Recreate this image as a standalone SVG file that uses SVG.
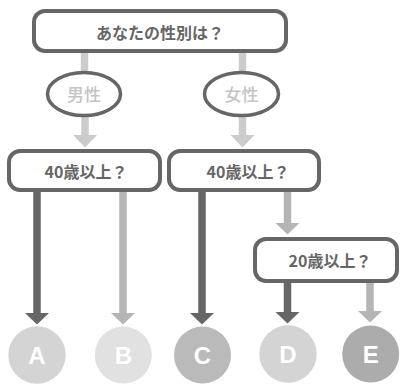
<svg xmlns="http://www.w3.org/2000/svg" width="401" height="385" viewBox="0 0 401 385">
<style>
.box{fill:#fff;stroke:#666;stroke-width:4}
.ell{fill:#fff;stroke:#666;stroke-width:3.5}
.q{font-family:"Noto Sans CJK JP","Noto Sans",sans-serif;font-weight:700;font-size:16px;fill:#666;text-anchor:middle;dominant-baseline:central}
.g{font-family:"Noto Sans CJK JP","Noto Sans",sans-serif;font-weight:500;font-size:17px;fill:#c4c4c4;text-anchor:middle;dominant-baseline:central}
.lt{font-family:"Liberation Sans",Arial,sans-serif;font-weight:700;font-size:24px;fill:#fff;text-anchor:middle}
.c0{stroke:#cccccc;stroke-width:7.5;fill:none}
.c1{stroke:#b5b5b5;stroke-width:7.5;fill:none}
.c2{stroke:#666;stroke-width:7.5;fill:none}
.h0{fill:#cccccc}.h1{fill:#b5b5b5}.h2{fill:#666}
</style>
<g id="connectors">
<line class="c0" x1="84.5" y1="53" x2="84.5" y2="72"/>
<line class="c0" x1="242.5" y1="53" x2="242.5" y2="72"/>
<line class="c0" x1="85" y1="116" x2="85" y2="136"/>
<polygon class="h0" points="73,135 97,135 85,147.5"/>
<line class="c0" x1="242.5" y1="116" x2="242.5" y2="136"/>
<polygon class="h0" points="230.5,135 254.5,135 242.5,147.5"/>
<line class="c1" x1="287.5" y1="192" x2="287.5" y2="224"/>
<polygon class="h1" points="275.5,223 299.5,223 287.5,234.5"/>
<line class="c2" x1="37" y1="192" x2="37" y2="314"/>
<polygon class="h2" points="25,313 49,313 37,324.5"/>
<line class="c1" x1="123" y1="192" x2="123" y2="314"/>
<polygon class="h1" points="111,313 135,313 123,324.5"/>
<line class="c2" x1="202" y1="192" x2="202" y2="314"/>
<polygon class="h2" points="190,313 214,313 202,324.5"/>
<line class="c2" x1="287.5" y1="283" x2="287.5" y2="313"/>
<polygon class="h2" points="275.5,312 299.5,312 287.5,323.5"/>
<line class="c1" x1="370" y1="283" x2="370" y2="312"/>
<polygon class="h1" points="358,311 382,311 370,322.5"/>
</g>
<g id="q-gender">
<rect class="box" x="34" y="11" width="252" height="40" rx="11"/>
<text class="q" x="160" y="31.5">あなたの性別は？</text>
</g>
<g id="male">
<ellipse class="ell" cx="84" cy="94" rx="36.5" ry="21.5"/>
<text class="g" x="84" y="93.5">男性</text>
</g>
<g id="female">
<ellipse class="ell" cx="241.5" cy="94" rx="37" ry="21.5"/>
<text class="g" x="241.5" y="93.5">女性</text>
</g>
<g id="q-age-m">
<rect class="box" x="9" y="151" width="151" height="39" rx="11"/>
<text class="q" x="86" y="170.5">40歳以上？</text>
</g>
<g id="q-age-f">
<rect class="box" x="169" y="151" width="150" height="39" rx="11"/>
<text class="q" x="248" y="170.5">40歳以上？</text>
</g>
<g id="q-age-20">
<rect class="box" x="255" y="239" width="142" height="42" rx="11"/>
<text class="q" x="330" y="260">20歳以上？</text>
</g>
<g id="A"><circle cx="37" cy="355" r="28.7" fill="#d4d4d4"/><text class="lt" x="37" y="363.5">A</text></g>
<g id="B"><circle cx="123.3" cy="355" r="28.5" fill="#e1e1e1"/><text class="lt" x="123.3" y="363.5">B</text></g>
<g id="C"><circle cx="202.5" cy="355" r="28.5" fill="#b9bab9"/><text class="lt" x="202.5" y="363.5">C</text></g>
<g id="D"><circle cx="288" cy="354" r="28.7" fill="#d4d4d4"/><text class="lt" x="288" y="362.5">D</text></g>
<g id="E"><circle cx="370.7" cy="354" r="28.5" fill="#acacac"/><text class="lt" x="370.7" y="362.5">E</text></g>
</svg>
